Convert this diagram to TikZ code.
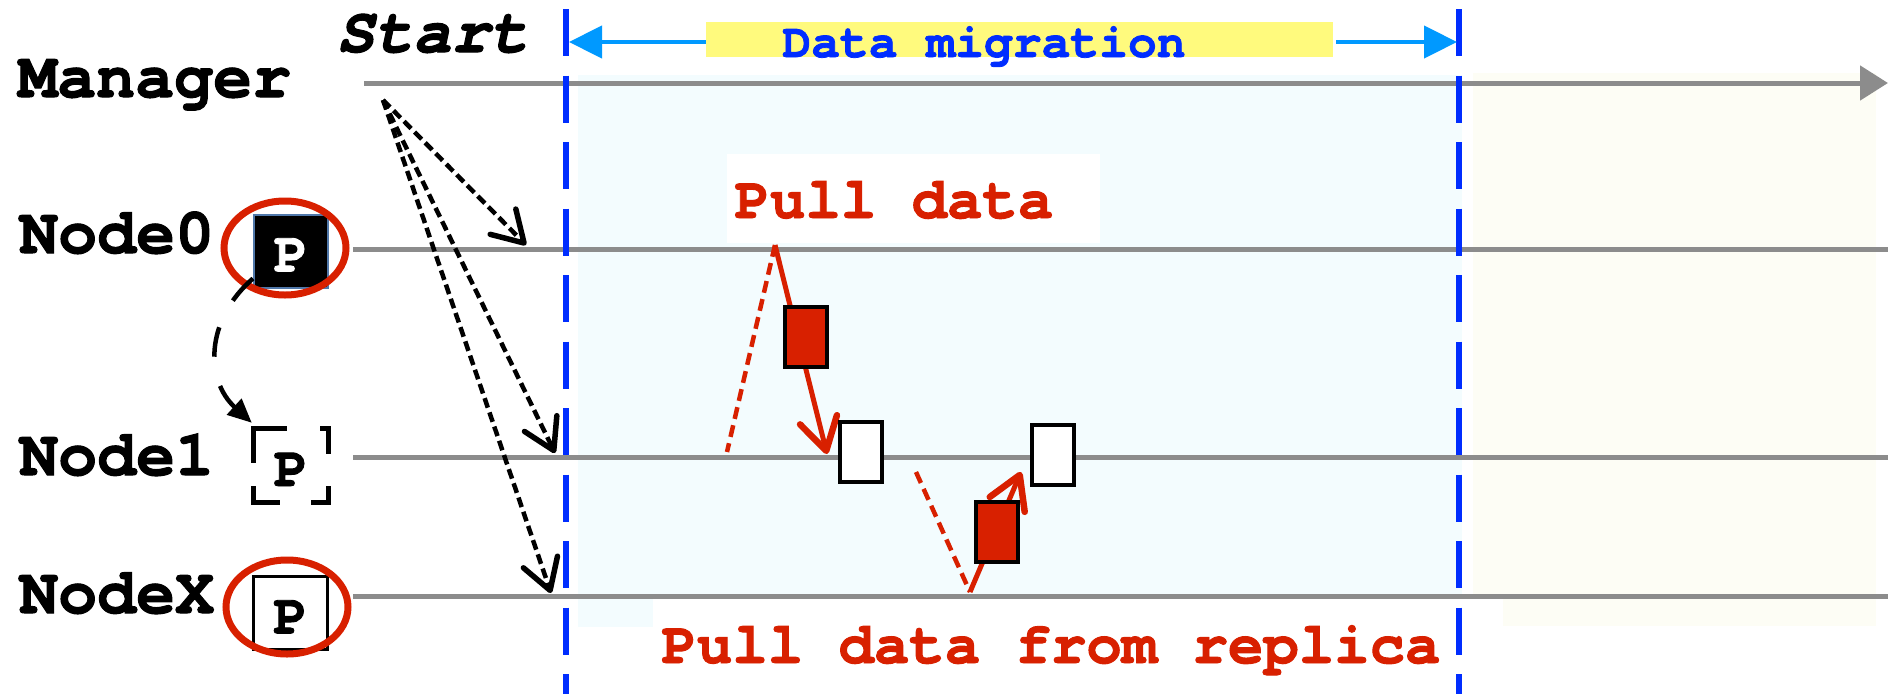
\documentclass[tikz,border=0pt]{standalone}
\usepackage{fontspec}
\usetikzlibrary{arrows.meta,shapes.geometric,calc}
\newfontfamily\cour{texgyrecursor}[Extension=.otf,UprightFont=*-regular,BoldFont=*-bold,ItalicFont=*-italic,BoldItalicFont=*-bolditalic,BoldFeatures={FakeBold=1.6},BoldItalicFeatures={FakeBold=1.6}]
\definecolor{lifegray}{RGB}{140,140,140}
\definecolor{phaseblue}{RGB}{0,45,255}
\definecolor{spanblue}{RGB}{0,153,255}
\definecolor{tagyellow}{RGB}{255,250,125}
\definecolor{pullred}{RGB}{216,32,0}
\definecolor{migbg}{RGB}{243,252,254}
\definecolor{afterbg}{RGB}{253,253,245}
\definecolor{edgeblue}{RGB}{80,120,170}
\tikzset{
  lifeline/.style={draw=lifegray,line width=5pt},
  phaseline/.style={draw=phaseblue,line width=5.5pt,dash pattern=on 47pt off 19.5pt},
  rowlabel/.style={font=\cour\bfseries\fontsize{65}{65}\selectfont,inner sep=0pt,anchor=base west},
  notify/.style={draw=black,line width=4.5pt,dash pattern=on 10pt off 5pt,-{Straight Barb[round,length=30pt,width=36pt,line width=5.5pt]}},
  ring/.style={ellipse,draw=pullred,line width=7pt,minimum width=122pt,minimum height=94pt,inner sep=0pt},
  pbox/.style={rectangle,minimum width=74pt,minimum height=73pt,inner sep=0pt,text height=41pt,text depth=0pt,font=\cour\bfseries\fontsize{57}{57}\selectfont},
  bracket/.style={draw=black,line width=5pt},
  chunk/.style={rectangle,draw=black,line width=3.5pt,minimum width=42pt,minimum height=60pt,inner sep=0pt},
  pullarrow/.style={draw=pullred,line width=5pt,-{Straight Barb[round,length=32pt,width=38pt,line width=6.5pt]}},
  pulldash/.style={draw=pullred,line width=4.5pt,dash pattern=on 12pt off 6.5pt},
  pulltext/.style={font=\cour\bfseries\fontsize{59}{59}\selectfont,text=pullred,inner sep=0pt,anchor=base},
  spanarrow/.style={draw=spanblue,line width=4.5pt,-{Triangle[length=33pt,width=32pt]}},
  whitebox/.style={fill=white,inner sep=0pt,anchor=north west},
}
\begin{document}
\begin{tikzpicture}[x=1pt,y=-1pt]
\useasboundingbox (0,0) rectangle (1888,694);

% phase backgrounds
\fill[migbg] (578,75) rectangle (1462,627);
\fill[afterbg] (1473,73) rectangle (1876,626);

% white panels behind the captions
\node[whitebox,minimum width=850pt,minimum height=90pt] (replbox) at (653,599) {};
\node[whitebox,minimum width=373pt,minimum height=89pt] (pullbox) at (727,154) {};

% lifelines
\coordinate (mgrS) at (364,83);  \coordinate (mgrE) at (1888,83);
\coordinate (n0S) at (353,249);  \coordinate (n0E) at (1888,249);
\coordinate (n1S) at (353,457);  \coordinate (n1E) at (1888,457);
\coordinate (nxS) at (353,596);  \coordinate (nxE) at (1888,596);
\draw[lifeline,-{Triangle[length=28pt,width=34pt]}] (mgrS) -- (mgrE);
\draw[lifeline] (n0S) -- (n0E);
\draw[lifeline] (n1S) -- (n1E);
\draw[lifeline] (nxS) -- (nxE);

% phase boundaries
\coordinate (phLtop) at (566,9);   \coordinate (phLbot) at (566,694);
\coordinate (phRtop) at (1459,9);  \coordinate (phRbot) at (1459,694);
\draw[phaseline] (phLtop) -- (phLbot);
\draw[phaseline] (phRtop) -- (phRbot);

% migration span
\node[fill=tagyellow,minimum width=627pt,minimum height=35pt,inner sep=0pt] (tag) at (1019.5,39.5) {};
\node[font=\cour\bfseries\fontsize{48}{48}\selectfont,text=phaseblue,inner sep=0pt,anchor=base] (tagtext) at (984,57) {Data migration};
\coordinate (spanL) at (569,42);
\coordinate (spanR) at (1457,42);
\draw[spanarrow] (tag.west |- spanL) -- (spanL);
\draw[spanarrow] ([xshift=3pt]tag.east |- spanR) -- (spanR);

% row labels
\node[rowlabel,font=\cour\bfseries\itshape\fontsize{64}{64}\selectfont] (start) at (336,52) {Start};
\node[rowlabel] (mgr) at (18,97) {Manager};
\node[rowlabel] (n0) at (19,253) {Node0};
\node[rowlabel] (n1) at (19,475) {Node1};
\node[rowlabel] (nx) at (19,613) {NodeX};

% partition replicas
\node[pbox,fill=black,draw=edgeblue,line width=2pt,text=white] (p0) at (291,251) {P};
\node[ring] (ring0) at (285,248) {};
\node[pbox] (p1) at (291,465.5) {P};
\draw[bracket] ($(p1.north west)+(0,34)$) -- (p1.north west) -- ($(p1.north west)+(33,0)$);
\draw[bracket] ($(p1.north east)+(-8,0)$) -- (p1.north east) -- ($(p1.north east)+(0,25)$);
\draw[bracket] ($(p1.south west)+(0,-16)$) -- (p1.south west) -- ($(p1.south west)+(26,0)$);
\draw[bracket] ($(p1.south east)+(0,-16)$) -- (p1.south east) -- ($(p1.south east)+(-17,0)$);
\node[pbox,fill=white,draw=black,line width=3.5pt] (px) at (290.5,613) {P};
\node[ring] (ringx) at (287,607) {};

% replica moves from Node0 to Node1
\draw[black,line width=4.5pt,dash pattern=on 30pt off 30pt,-{Triangle[length=24pt,width=21pt]}]
  ($(p0.south west)+(0,-10)$) .. controls (205,320) and (205,380) .. ($(p1.north west)+(-2,-6)$);

% manager notifies the nodes
\coordinate (fan) at (383,100);
\coordinate (hit0) at (526,245);
\coordinate (hit1) at (555,453);
\coordinate (hitx) at (551,593);
\draw[notify] (fan) -- (hit0);
\draw[notify] (fan) -- (hit1);
\draw[notify] (fan) -- (hitx);

% pull from the old owner
\coordinate (pk) at (775,245);
\coordinate (req1) at (727,452);
\coordinate (tip1) at (827,454);
\draw[pulldash] (pk) -- (req1);
\draw[pullarrow] (pk) -- (tip1);
\node[chunk,fill=pullred] (src0) at (806,337) {};
\node[chunk,fill=white] (dst1) at (861,452) {};

% pull from a replica
\coordinate (req2) at (916,472);
\coordinate (tr) at (970,592);
\coordinate (tip2) at (1021,472);
\draw[pulldash] (req2) -- (tr);
\draw[pullarrow] (tr) -- (tip2);
\node[chunk,fill=pullred] (src1) at (997,532) {};
\node[chunk,fill=white] (dst2) at (1053,455) {};

% captions
\node[pulltext] (pulltxt) at (894,218) {Pull data};
\node[pulltext] (repltxt) at (1051,663) {Pull data from replica};
\end{tikzpicture}
\end{document}
